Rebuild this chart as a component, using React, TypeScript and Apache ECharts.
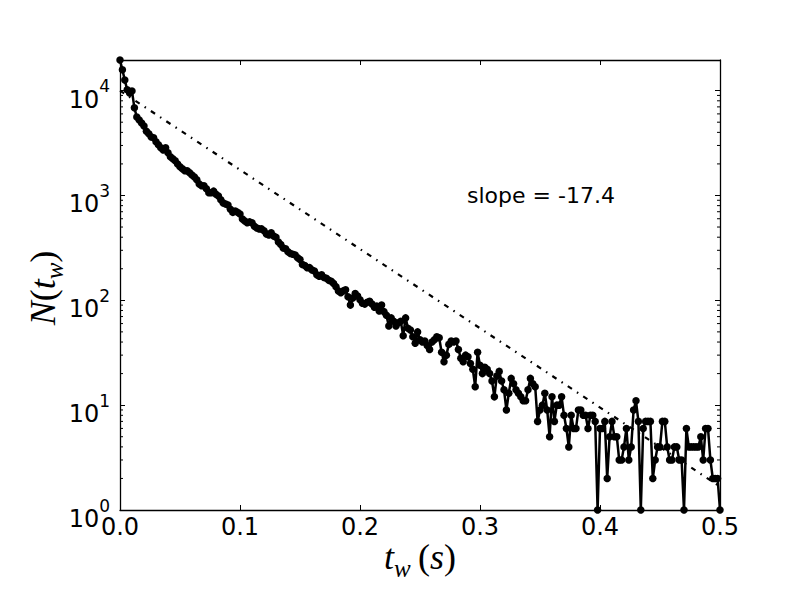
import React, { useEffect, useRef } from "react";
import * as echarts from "echarts";

// Histogram bin width (s): one count per bin, bins start at t = 0
const BIN_WIDTH_S = 0.002;

// N(t_w) per bin
const COUNTS = [
  19600, 15800, 12600, 10200, 9500, 9900, 6850, 5600, 5250, 4900,
  4600, 4100, 3870, 3620, 3550, 3250, 3040, 2850, 2720, 2850,
  2550, 2340, 2240, 2140, 2000, 1880, 1800, 1720, 1720, 1650,
  1570, 1500, 1410, 1290, 1240, 1240, 1160, 1060, 1060, 1100,
  1030, 990, 910, 850, 830, 810, 740, 690, 710, 690,
  665, 595, 570, 550, 560, 550, 510, 490, 480, 480,
  460, 430, 420, 440, 410, 400, 360, 340, 315, 310,
  290, 280, 275, 270, 255, 245, 220, 215, 205, 205,
  195, 190, 175, 170, 175, 165, 162, 155, 152, 145,
  135, 123, 118, 123, 126, 108, 90, 105, 116, 110,
  101, 94, 92, 96, 98, 92, 86, 88, 79, 90,
  78, 72, 57, 68, 63, 57, 61, 63, 46, 68,
  54, 52, 45, 39, 50, 42, 40, 41, 37, 34,
  40, 42, 45, 44, 32, 26, 30, 38, 41, 40,
  41, 34, 28, 26, 30, 29, 25, 22, 15, 32,
  24, 20, 23, 22, 20, 17, 12, 19, 21, 17,
  14, 9, 13, 18, 16, 14, 13, 12, 11, 11,
  14, 18, 16, 15, 7, 9, 10, 13, 9, 5,
  12, 7, 10, 10, 12, 8, 6, 4, 8, 6,
  6, 9, 9, 8, 8, 6, 8, 8, 7, 1,
  6, 6, 7, 2, 5, 7, 5, 5, 3, 3,
  4, 6, 3, 4, 9, 11, 7, 1, 6, 7,
  7, 7, 2, 3, 4, 4, 7, 7, 4, 3,
  3, 4, 4, 3, 3, 1, 6, 4, 4, 4,
  4, 4, 5, 3, 6, 6, 3, 2, 2, 2,
  1,
];

// Dash-dot fitted line end points [t, N]
const FIT_LINE = [
  [0, 10000],
  [0.5, 1.67],
];

const SLOPE_LABEL = "slope = -17.4";

// Axis ranges
const X_MIN = 0;
const X_MAX = 0.5;
const X_STEP = 0.1;
const Y_MIN = 1;
const Y_MAX = 19600;

// Minor ticks of the log axis
const Y_MINOR_TICKS = [
  2, 3, 4, 5, 6, 7, 8, 9,
  20, 30, 40, 50, 60, 70, 80, 90,
  200, 300, 400, 500, 600, 700, 800, 900,
  2000, 3000, 4000, 5000, 6000, 7000, 8000, 9000,
];

const SANS = "DejaVu Sans";
const SERIF = "Liberation Serif";

export default function App() {
  const ref = useRef<HTMLDivElement>(null);

  useEffect(() => {
    if (!ref.current) return;
    const chart = echarts.init(ref.current, null, { renderer: "svg" });

    const axisLine = { show: true, onZero: false, lineStyle: { color: "#000", width: 1.3 } };
    const axisTick = { show: true, inside: true, length: 5, lineStyle: { color: "#000", width: 1 } };

    const mathRich = {
      i: { fontFamily: SERIF, fontStyle: "italic", fontSize: 36, lineHeight: 40, verticalAlign: "top", color: "#000" },
      r: { fontFamily: SERIF, fontSize: 36, lineHeight: 40, verticalAlign: "top", color: "#000" },
      sub: { fontFamily: SERIF, fontStyle: "italic", fontSize: 25, lineHeight: 42, verticalAlign: "bottom", color: "#000" },
    };

    const yLabelFormatter = (v: number) => {
      const l = Math.log10(v);
      const e = Math.round(l);
      if (Math.abs(l - e) > 1e-6) return "";
      return `{b|10}{s|${e}}`;
    };

    const option = {
      animation: false,
      backgroundColor: "#fff",
      grid: { left: 120, right: 80, top: 60, bottom: 90, outerBoundsMode: "none" },
      xAxis: [
        {
          type: "value",
          min: X_MIN,
          max: X_MAX,
          interval: X_STEP,
          position: "bottom",
          axisLine,
          axisTick,
          splitLine: { show: false },
          axisLabel: {
            show: true,
            margin: 5,
            color: "#000",
            fontSize: 24,
            fontFamily: SANS,
            formatter: (v: number) => v.toFixed(1),
          },
        },
        {
          type: "value",
          min: X_MIN,
          max: X_MAX,
          interval: X_STEP,
          position: "top",
          axisLine,
          axisTick,
          splitLine: { show: false },
          axisLabel: { show: false },
        },
      ],
      yAxis: [
        {
          type: "log",
          logBase: 10,
          min: Y_MIN,
          max: Y_MAX,
          position: "left",
          axisLine,
          axisTick,
          splitLine: { show: false },
          axisLabel: {
            show: true,
            margin: 10,
            color: "#000",
            fontSize: 24,
            fontFamily: SANS,
            padding: [8, 0, 0, 0],
            formatter: yLabelFormatter,
            rich: {
              b: { fontSize: 24, fontFamily: SANS, color: "#000", lineHeight: 34, verticalAlign: "bottom" },
              s: { fontSize: 17, fontFamily: SANS, color: "#000", lineHeight: 17, verticalAlign: "top" },
            },
          },
        },
        {
          type: "log",
          logBase: 10,
          min: Y_MIN,
          max: Y_MAX,
          position: "right",
          axisLine,
          axisTick,
          splitLine: { show: false },
          axisLabel: { show: false },
        },
      ],
      series: [
        {
          type: "line",
          data: FIT_LINE,
          symbol: "none",
          silent: true,
          z: 2,
          lineStyle: { color: "#000", width: 2.2, type: [5, 6, 1.5, 6], cap: "butt" },
        },
        {
          type: "line",
          data: COUNTS.map((n, i) => [i * BIN_WIDTH_S, n]),
          symbol: "circle",
          symbolSize: 7.5,
          showAllSymbol: true,
          silent: true,
          z: 3,
          itemStyle: { color: "#000", borderWidth: 0 },
          lineStyle: { color: "#000", width: 2.5 },
        },
        {
          type: "custom",
          silent: true,
          z: 4,
          data: Y_MINOR_TICKS.map((v) => [X_MIN, v]),
          renderItem: (_params: any, api: any) => {
            const v = api.value(1);
            const l = api.coord([X_MIN, v]);
            const r = api.coord([X_MAX, v]);
            const style = { stroke: "#000", lineWidth: 1 };
            return {
              type: "group",
              children: [
                { type: "line", shape: { x1: l[0], y1: l[1], x2: l[0] + 3, y2: l[1] }, style },
                { type: "line", shape: { x1: r[0] - 3, y1: r[1], x2: r[0], y2: r[1] }, style },
              ],
            };
          },
        },
      ],
      graphic: [
        {
          type: "text",
          x: 467,
          y: 195,
          style: {
            text: SLOPE_LABEL,
            fontSize: 22,
            fontFamily: SANS,
            fill: "#000",
            align: "left",
            verticalAlign: "middle",
            textAlign: "left",
            textVerticalAlign: "middle",
          },
        },
        {
          type: "text",
          x: 420,
          y: 560,
          style: {
            text: "{i|t}{sub|w}{r|\u2009(}{i|s}{r|)}",
            rich: mathRich,
            align: "center",
            verticalAlign: "middle",
            textAlign: "center",
            textVerticalAlign: "middle",
          },
        },
        {
          type: "text",
          x: 46,
          y: 288,
          rotation: Math.PI / 2,
          style: {
            text: "{i|N}{r|(}{i|t}{sub|w}{r|)}",
            rich: mathRich,
            align: "center",
            verticalAlign: "middle",
            textAlign: "center",
            textVerticalAlign: "middle",
          },
        },
      ],
    };

    chart.setOption(option as any);
    return () => chart.dispose();
  }, []);

  return (
    <div
      ref={ref}
      style={{ position: "absolute", left: 0, top: 0, width: 800, height: 600 }}
    />
  );
}
